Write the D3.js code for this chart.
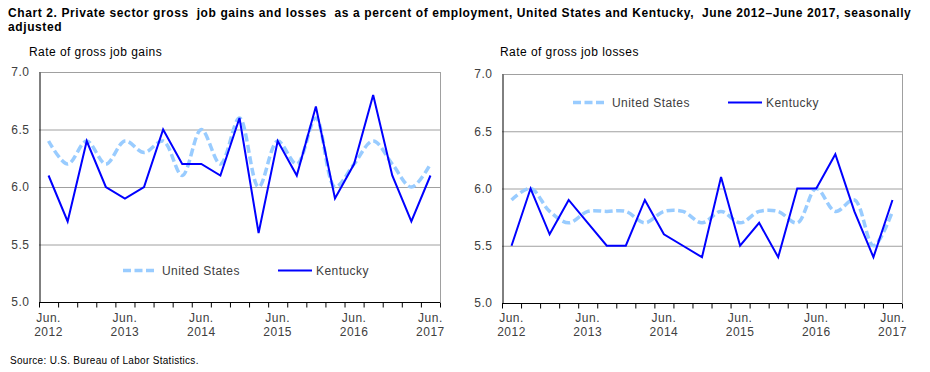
<!DOCTYPE html>
<html>
<head>
<meta charset="utf-8">
<script src="https://cdn.jsdelivr.net/npm/d3@7"></script>
<style>
  body { margin: 0; background: #fff; }
  svg { font-family: "Liberation Sans", Arial, sans-serif; }
  text { white-space: pre; }
</style>
</head>
<body>
<script>
// quarters, June 2012 to June 2017
var quarters = ['Jun. 2012','Sep. 2012','Dec. 2012','Mar. 2013','Jun. 2013','Sep. 2013','Dec. 2013',
  'Mar. 2014','Jun. 2014','Sep. 2014','Dec. 2014','Mar. 2015','Jun. 2015','Sep. 2015','Dec. 2015',
  'Mar. 2016','Jun. 2016','Sep. 2016','Dec. 2016','Mar. 2017','Jun. 2017'];

var gainsUS = [6.4, 6.2, 6.4, 6.2, 6.4, 6.3, 6.4, 6.1, 6.5, 6.2, 6.6, 6.0, 6.4, 6.2, 6.6, 6.0, 6.2, 6.4, 6.2, 6.0, 6.2];
var gainsKY = [6.1, 5.7, 6.4, 6.0, 5.9, 6.0, 6.5, 6.2, 6.2, 6.1, 6.6, 5.6, 6.4, 6.1, 6.7, 5.9, 6.2, 6.8, 6.1, 5.7, 6.1];
var lossesUS = [5.9, 6.0, 5.8, 5.7, 5.8, 5.8, 5.8, 5.7, 5.8, 5.8, 5.7, 5.8, 5.7, 5.8, 5.8, 5.7, 6.0, 5.8, 5.9, 5.5, 5.8];
var lossesKY = [5.5, 6.0, 5.6, 5.9, 5.7, 5.5, 5.5, 5.9, 5.6, 5.5, 5.4, 6.1, 5.5, 5.7, 5.4, 6.0, 6.0, 6.3, 5.8, 5.4, 5.9];

var yTicks = [5.0, 5.5, 6.0, 6.5, 7.0];
var seriesNames = ['United States', 'Kentucky'];

var W = 930, H = 372;
var textColor = '#404040';

var svg = d3.select('body').append('svg').attr('width', W).attr('height', H);

svg.append('text').attr('x', 8).attr('y', 17)
  .attr('font-size', 12).attr('font-weight', 'bold').attr('fill', '#000')
  .attr('letter-spacing', 0.6)
  .text('Chart 2. Private sector gross  job gains and losses  as a percent of employment, United States and Kentucky,  June 2012\u2013June 2017, seasonally');
svg.append('text').attr('x', 8).attr('y', 31)
  .attr('font-size', 12).attr('font-weight', 'bold').attr('fill', '#000')
  .attr('letter-spacing', 0.6)
  .text('adjusted');

svg.append('text').attr('x', 10).attr('y', 364)
  .attr('font-size', 10).attr('fill', '#000').attr('letter-spacing', 0.3)
  .text('Source: U.S. Bureau of Labor Statistics.');

function drawPanel(opt) {
  var g = svg.append('g');

  var x = d3.scaleBand().domain(quarters).range([opt.left, opt.right]);
  var xTick = d3.scaleLinear().domain([0, quarters.length]).range([opt.left, opt.right]);
  var y = d3.scaleLinear().domain([5, 7]).range([opt.bottom, opt.top]);

  g.append('text').attr('x', opt.titleX).attr('y', 56)
    .attr('font-size', 12).attr('fill', '#000').attr('letter-spacing', 0.45).text(opt.title);

  // gridlines
  g.append('g')
    .attr('transform', 'translate(' + opt.left + ',0)')
    .call(d3.axisLeft(y).tickValues(yTicks.slice(1)).tickSize(-(opt.right - opt.left)).tickFormat(''))
    .call(function (s) {
      s.select('.domain').remove();
      s.selectAll('line').attr('stroke', '#a0a0a0');
    });

  // right border
  g.append('line')
    .attr('x1', opt.right + 0.5).attr('x2', opt.right + 0.5)
    .attr('y1', opt.top).attr('y2', opt.bottom)
    .attr('stroke', '#a0a0a0');

  // y axis
  g.append('g')
    .attr('transform', 'translate(' + (opt.left + 0.5) + ',0)')
    .call(d3.axisLeft(y).tickValues(yTicks).tickSize(0).tickPadding(10).tickFormat(d3.format('.1f')))
    .call(function (s) {
      s.select('.domain').attr('stroke', '#000');
      s.selectAll('text').attr('font-size', 12).attr('fill', textColor).attr('letter-spacing', 0.5)
        .attr('font-family', '"Liberation Sans", Arial, sans-serif');
    });

  // x axis tick marks between quarters
  g.append('g')
    .attr('transform', 'translate(0,' + (opt.bottom + 0.5) + ')')
    .call(d3.axisBottom(xTick).tickValues(d3.range(quarters.length + 1)).tickSize(5).tickFormat(''))
    .call(function (s) {
      s.select('.domain').attr('stroke', '#000').attr('d', 'M' + opt.left + ',0H' + opt.right);
      s.selectAll('line').attr('stroke', '#000');
    });

  // x labels on June quarters
  var lab = g.append('g').selectAll('text')
    .data(quarters.filter(function (q) { return q.indexOf('Jun.') === 0; }))
    .enter().append('text')
    .attr('text-anchor', 'middle')
    .attr('font-size', 12).attr('fill', textColor).attr('letter-spacing', 0.5);
  lab.append('tspan')
    .attr('x', function (d) { return x(d) + x.bandwidth() / 2; })
    .attr('y', 322)
    .text(function (d) { return d.split(' ')[0]; });
  lab.append('tspan')
    .attr('x', function (d) { return x(d) + x.bandwidth() / 2; })
    .attr('y', 336)
    .text(function (d) { return d.split(' ')[1]; });

  var cx = function (d, i) { return x(quarters[i]) + x.bandwidth() / 2; };

  var smooth = d3.line().x(cx).y(function (d) { return y(d); }).curve(d3.curveCatmullRom);
  var straight = d3.line().x(cx).y(function (d) { return y(d); });

  g.append('path').datum(opt.us)
    .attr('d', smooth)
    .attr('fill', 'none').attr('stroke', '#99ccff')
    .attr('stroke-width', 3.5).attr('stroke-dasharray', '8,3.5');

  g.append('path').datum(opt.ky)
    .attr('d', straight)
    .attr('fill', 'none').attr('stroke', '#0000ff')
    .attr('stroke-width', 2).attr('stroke-linejoin', 'miter');

  // legend
  var leg = g.append('g');
  leg.append('line')
    .attr('x1', opt.legX).attr('x2', opt.legX + 33)
    .attr('y1', opt.legY).attr('y2', opt.legY)
    .attr('stroke', '#99ccff').attr('stroke-width', 3.5).attr('stroke-dasharray', '8,3.5');
  leg.append('text').attr('x', opt.legX + 39).attr('y', opt.legY + 4)
    .attr('font-size', 12).attr('fill', textColor).attr('letter-spacing', 0.45).text(seriesNames[0]);
  leg.append('line')
    .attr('x1', opt.legX + 155).attr('x2', opt.legX + 189)
    .attr('y1', opt.legY).attr('y2', opt.legY)
    .attr('stroke', '#0000ff').attr('stroke-width', 2);
  leg.append('text').attr('x', opt.legX + 193).attr('y', opt.legY + 4)
    .attr('font-size', 12).attr('fill', textColor).attr('letter-spacing', 0.45).text(seriesNames[1]);
}

drawPanel({
  title: 'Rate of gross job gains', titleX: 29,
  left: 39, right: 440, top: 72, bottom: 302,
  us: gainsUS, ky: gainsKY,
  legX: 123, legY: 270.5
});

drawPanel({
  title: 'Rate of gross job losses', titleX: 500,
  left: 502, right: 902, top: 74, bottom: 303,
  us: lossesUS, ky: lossesKY,
  legX: 573, legY: 102.5
});
</script>
</body>
</html>
